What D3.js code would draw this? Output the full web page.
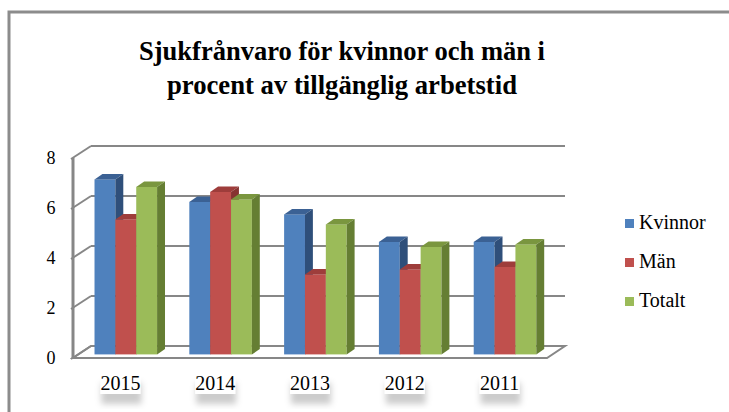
<!DOCTYPE html>
<html>
<head>
<meta charset="utf-8">
<script src="https://cdn.jsdelivr.net/npm/d3@7"></script>
<style>
  body { margin: 0; background: #fff; }
  svg { display: block; }
</style>
</head>
<body>
<div id="chart"></div>
<script>
// Chart data
var years = ["2015", "2014", "2013", "2012", "2011"];
var seriesNames = ["Kvinnor", "Män", "Totalt"];
var kvinnor = [7.0, 6.1, 5.6, 4.5, 4.5];
var man = [5.4, 6.5, 3.2, 3.4, 3.5];
var totalt = [6.7, 6.2, 5.2, 4.3, 4.4];
var yTicks = [0, 2, 4, 6, 8];
var titleLines = ["Sjukfrånvaro för kvinnor och män i", "procent av tillgänglig arbetstid"];

var width = 729, height = 412;
var serif = "'Liberation Serif', 'Times New Roman', serif";
var frontColors = ["#4F81BD", "#C0504D", "#9BBB59"];
var topColors = ["#3B6194", "#9E3D3B", "#7A963F"];
var sideColors = ["#2F4F7A", "#863331", "#657E33"];

var svg = d3.select("#chart").append("svg")
    .attr("width", width)
    .attr("height", height)
    .style("font-family", serif);

// drop shadow for the year labels
var defs = svg.append("defs");
var filt = defs.append("filter").attr("id", "shadow")
    .attr("x", "-30%").attr("y", "-30%").attr("width", "160%").attr("height", "200%");
filt.append("feDropShadow")
    .attr("dx", 1).attr("dy", 10)
    .attr("stdDeviation", 3)
    .attr("flood-color", "#000")
    .attr("flood-opacity", 0.2);

// outer chart border
svg.append("path")
    .attr("d", "M9," + height + "V12H" + width)
    .attr("fill", "none")
    .attr("stroke", "#8c8c8c")
    .attr("stroke-width", 3);

// title (two lines, squeezed a bit to mimic the narrow original face)
var titleLens = [406, 350];
svg.selectAll(".title")
    .data(titleLines)
    .enter()
    .append("text")
    .attr("class", "title")
    .attr("x", 342)
    .attr("y", function(d, i) { return 60 + i * 34; })
    .attr("text-anchor", "middle")
    .attr("textLength", function(d, i) { return titleLens[i]; })
    .attr("lengthAdjust", "spacingAndGlyphs")
    .style("font-family", serif)
    .style("font-weight", "bold")
    .style("font-size", "28px")
    .text(function(d) { return d; });

// 3D geometry: front plane + depth offset
var x0 = 73, x1 = 547;
var depthX = 18, depthY = -12;

var y = d3.scaleLinear().domain([0, 8]).range([358, 158]);

var x = d3.scaleBand().domain(years).range([x0, x1])
    .paddingInner(0.34).paddingOuter(0.17);
var xs = d3.scaleBand().domain(seriesNames).range([0, x.bandwidth()]);

var grid = "#878787";

// floor
svg.append("polygon")
    .attr("points", [[x0, y(0)], [x1, y(0)], [x1 + depthX, y(0) + depthY], [x0 + depthX, y(0) + depthY]].join(" "))
    .attr("fill", "#fff")
    .attr("stroke", grid)
    .attr("stroke-width", 2);

// back wall gridlines + left wall lines
yTicks.forEach(function(t) {
    svg.append("line")
        .attr("x1", x0 + depthX).attr("x2", x1 + depthX)
        .attr("y1", y(t) + depthY).attr("y2", y(t) + depthY)
        .attr("stroke", grid).attr("stroke-width", 2);
    svg.append("line")
        .attr("x1", x0 - 2).attr("x2", x0 + depthX)
        .attr("y1", y(t) + 1).attr("y2", y(t) + depthY)
        .attr("stroke", grid).attr("stroke-width", 2);
});

// left wall front edge
svg.append("line")
    .attr("x1", x0).attr("x2", x0)
    .attr("y1", y(8)).attr("y2", y(0) + 1)
    .attr("stroke", grid).attr("stroke-width", 3);

// y labels
svg.selectAll(".ylab")
    .data(yTicks)
    .enter()
    .append("text")
    .attr("class", "ylab")
    .attr("x", 51)
    .attr("y", function(d) { return y(d) + 6; })
    .attr("text-anchor", "middle")
    .style("font-family", serif)
    .style("font-size", "18px")
    .text(function(d) { return d; });

// bars
var seriesVals = [kvinnor, man, totalt];
var f0 = 0.3, fd = 0.44;
var offX = depthX * f0, offY = depthY * f0;
var ddx = depthX * fd, ddy = depthY * fd;

years.forEach(function(yr, i) {
    seriesNames.forEach(function(s, j) {
        var v = seriesVals[j][i];
        var bx = x(yr) + xs(s) + offX;
        var bw = xs.bandwidth();
        var by = y(v) + offY;
        var bb = y(0) + offY;
        var g = svg.append("g").attr("class", "bar");
        g.append("rect")
            .attr("x", bx).attr("y", by)
            .attr("width", bw).attr("height", bb - by)
            .attr("fill", frontColors[j]);
        g.append("polygon")
            .attr("points", [[bx, by], [bx + bw, by], [bx + bw + ddx, by + ddy], [bx + ddx, by + ddy]].join(" "))
            .attr("fill", topColors[j]);
        g.append("polygon")
            .attr("points", [[bx + bw, by], [bx + bw + ddx, by + ddy], [bx + bw + ddx, bb + ddy], [bx + bw, bb]].join(" "))
            .attr("fill", sideColors[j]);
    });
});

// year labels with white box and shadow
var labs = svg.selectAll(".xlab")
    .data(years)
    .enter()
    .append("g")
    .attr("class", "xlab")
    .attr("transform", function(d) { return "translate(" + (x(d) + x.bandwidth() / 2) + ",0)"; });
labs.append("rect")
    .attr("x", -20).attr("y", 373)
    .attr("width", 40).attr("height", 21)
    .attr("fill", "#fff")
    .attr("filter", "url(#shadow)");
labs.append("text")
    .attr("text-anchor", "middle")
    .attr("y", 390)
    .style("font-family", serif)
    .style("font-size", "20px")
    .text(function(d) { return d; });

// legend
var legend = svg.selectAll(".legend")
    .data(seriesNames)
    .enter()
    .append("g")
    .attr("class", "legend")
    .attr("transform", function(d, i) { return "translate(625," + (219 + i * 39) + ")"; });
legend.append("rect")
    .attr("width", 9).attr("height", 9)
    .attr("fill", function(d, i) { return frontColors[i]; });
legend.append("text")
    .attr("x", 14).attr("y", 10)
    .style("font-family", serif)
    .style("font-size", "20px")
    .text(function(d) { return d; });
</script>
</body>
</html>
